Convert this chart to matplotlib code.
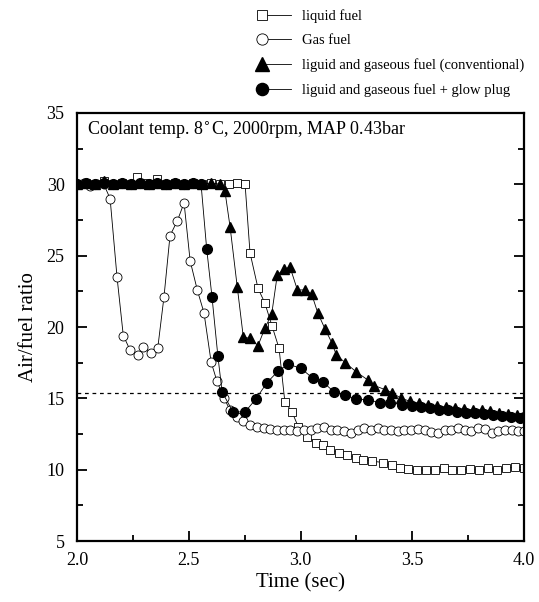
import matplotlib
matplotlib.use('Agg')
import matplotlib.pyplot as plt
from matplotlib.ticker import MultipleLocator

plt.rcParams['font.family'] = ['Liberation Serif', 'DejaVu Serif']

# liquid fuel (open squares)
t_liquid = [2.00, 2.04, 2.08, 2.12, 2.16, 2.20, 2.24, 2.268, 2.30, 2.33, 2.36, 2.40,
            2.44, 2.48, 2.52, 2.56, 2.60, 2.64, 2.68, 2.716, 2.752, 2.774, 2.81, 2.84,
            2.872, 2.904, 2.93, 2.962, 2.99, 3.03, 3.07, 3.10, 3.13, 3.17, 3.21, 3.25,
            3.28, 3.32, 3.37, 3.41, 3.445, 3.48, 3.52, 3.56, 3.60, 3.64, 3.68, 3.72,
            3.76, 3.80, 3.84, 3.88, 3.92, 3.96, 4.00]
afr_liquid = [30.0, 30.1, 30.0, 30.2, 30.0, 30.1, 30.0, 30.5, 30.1, 30.0, 30.4, 30.0,
              30.1, 30.0, 30.1, 30.0, 30.1, 30.0, 30.0, 30.1, 30.0, 25.2, 22.7, 21.7,
              20.1, 18.5, 14.75, 14.05, 13.0, 12.3, 11.9, 11.7, 11.4, 11.2, 11.0, 10.85,
              10.7, 10.6, 10.5, 10.3, 10.1, 10.05, 10.0, 9.95, 10.0, 10.1, 9.95, 10.0,
              10.05, 9.95, 10.1, 10.0, 10.1, 10.2, 10.15]

# gas fuel (open circles)
t_gas = [2.00, 2.03, 2.06, 2.09, 2.12, 2.148, 2.179, 2.207, 2.237, 2.271, 2.297, 2.331,
         2.361, 2.389, 2.416, 2.449, 2.479, 2.506, 2.538, 2.568, 2.600, 2.626, 2.658,
         2.684, 2.716, 2.743, 2.774, 2.805, 2.835, 2.865, 2.895, 2.925, 2.955, 2.985,
         3.015, 3.045, 3.075, 3.105, 3.135, 3.165, 3.195, 3.225, 3.255, 3.285, 3.315,
         3.345, 3.375, 3.405, 3.435, 3.465, 3.495, 3.525, 3.555, 3.585, 3.615, 3.645,
         3.675, 3.705, 3.735, 3.765, 3.795, 3.825, 3.855, 3.885, 3.915, 3.945, 3.975, 4.00]
afr_gas = [30.0, 30.1, 29.9, 30.0, 30.0, 29.0, 23.5, 19.4, 18.4, 18.05, 18.6, 18.2,
           18.5, 22.1, 26.4, 27.45, 28.7, 24.65, 22.6, 21.0, 17.55, 16.2, 15.0,
           14.2, 13.7, 13.4, 13.1, 13.0, 12.9, 12.85, 12.8, 12.75, 12.8, 12.7,
           12.8, 12.75, 12.9, 13.0, 12.8, 12.75, 12.7, 12.6, 12.8, 12.9, 12.8,
           12.95, 12.8, 12.75, 12.7, 12.8, 12.75, 12.85, 12.8, 12.65, 12.6, 12.75,
           12.8, 12.9, 12.75, 12.7, 12.9, 12.85, 12.6, 12.7, 12.8, 12.75, 12.7, 12.7]

# liquid and gaseous fuel, conventional (filled triangles)
t_conv = [2.00, 2.04, 2.08, 2.12, 2.16, 2.20, 2.24, 2.28, 2.32, 2.36, 2.40, 2.44,
          2.48, 2.52, 2.56, 2.60, 2.64, 2.662, 2.685, 2.717, 2.744, 2.774, 2.81, 2.84,
          2.871, 2.896, 2.926, 2.953, 2.986, 3.02, 3.05, 3.077, 3.11, 3.14, 3.16,
          3.20, 3.25, 3.30, 3.33, 3.38, 3.41, 3.45, 3.49, 3.53, 3.57, 3.61, 3.65,
          3.69, 3.73, 3.77, 3.81, 3.85, 3.89, 3.93, 3.97, 4.00]
afr_conv = [30.0, 30.1, 30.0, 30.2, 30.0, 30.1, 30.0, 30.1, 30.0, 30.1, 30.0, 30.1,
            30.0, 30.1, 30.0, 30.1, 30.0, 29.5, 27.0, 22.8, 19.3, 19.2, 18.7, 19.9,
            20.9, 23.65, 24.05, 24.2, 22.6, 22.6, 22.3, 21.0, 19.85, 18.9, 18.05,
            17.5, 16.85, 16.3, 15.9, 15.6, 15.4, 15.0, 14.8, 14.65, 14.55, 14.45, 14.4,
            14.3, 14.25, 14.2, 14.2, 14.1, 14.0, 13.9, 13.8, 13.75]

# liquid and gaseous fuel + glow plug (filled circles)
t_glow = [2.00, 2.04, 2.08, 2.12, 2.16, 2.20, 2.24, 2.28, 2.32, 2.36, 2.40, 2.44,
          2.48, 2.52, 2.555, 2.58, 2.604, 2.63, 2.649, 2.698, 2.752, 2.80, 2.85,
          2.899, 2.944, 3.002, 3.056, 3.10, 3.15, 3.20, 3.25, 3.30, 3.356, 3.40,
          3.454, 3.50, 3.54, 3.58, 3.62, 3.66, 3.70, 3.74, 3.78, 3.82, 3.86, 3.90,
          3.94, 3.98, 4.00]
afr_glow = [30.0, 30.1, 30.0, 30.1, 30.0, 30.1, 30.0, 30.1, 30.0, 30.1, 30.0, 30.1,
            30.0, 30.1, 30.0, 25.5, 22.1, 18.0, 15.45, 14.05, 14.05, 14.95, 16.1,
            16.9, 17.4, 17.1, 16.4, 16.15, 15.45, 15.2, 14.95, 14.9, 14.7, 14.7,
            14.55, 14.45, 14.4, 14.3, 14.2, 14.15, 14.05, 14.0, 13.95, 13.9, 13.8, 13.75,
            13.7, 13.65, 13.7]

stoich_afr = 15.35

fig = plt.figure(figsize=(5.39, 6.02), dpi=100)
ax = fig.add_axes([0.1429, 0.1013, 0.8293, 0.711])

ax.plot(t_liquid, afr_liquid, color='black', lw=0.6, marker='s', ms=6,
        mfc='white', mec='black', mew=0.6, label='liquid fuel')
ax.plot(t_gas, afr_gas, color='black', lw=0.6, marker='o', ms=6.5,
        mfc='white', mec='black', mew=0.6, label='Gas fuel')
ax.plot(t_conv, afr_conv, color='black', lw=0.6, marker='^', ms=7.5,
        mfc='black', mec='black', label='liguid and gaseous fuel (conventional)')
ax.plot(t_glow, afr_glow, color='black', lw=0.6, marker='o', ms=7,
        mfc='black', mec='black', label='liguid and gaseous fuel + glow plug')
ax.axhline(stoich_afr, color='black', lw=0.9, ls=(0, (3, 3)))

ax.set_xlim(2.0, 4.0)
ax.set_ylim(5, 35)
ax.xaxis.set_major_locator(MultipleLocator(0.5))
ax.xaxis.set_minor_locator(MultipleLocator(0.25))
ax.yaxis.set_major_locator(MultipleLocator(5))
ax.yaxis.set_minor_locator(MultipleLocator(2.5))
ax.xaxis.set_major_formatter(plt.FormatStrFormatter('%.1f'))
ax.tick_params(which='both', direction='in', right=True, top=False, width=1.3,
               labelsize=13)
ax.tick_params(which='major', length=7)
ax.tick_params(which='minor', length=4)
ax.tick_params(axis='y', pad=9)
ax.tick_params(axis='x', pad=8)
for s in ax.spines.values():
    s.set_linewidth(1.6)

ax.set_xlabel('Time (sec)', fontsize=15, labelpad=3)
ax.set_ylabel('Air/fuel ratio', fontsize=15, labelpad=6)
ax.text(0.022, 0.985, 'Coolant temp. 8$^{\\circ}$C, 2000rpm, MAP 0.43bar',
        transform=ax.transAxes, fontsize=13, va='top', ha='left')

leg = fig.legend(loc='upper left', bbox_to_anchor=(0.462, 1.006), frameon=False,
                 fontsize=10.5, numpoints=1, handlelength=2.0, handletextpad=0.75,
                 labelspacing=0.75, markerscale=1.25)
for line in leg.get_lines():
    line.set_markevery([0])

fig.savefig('out.png', dpi=100)
